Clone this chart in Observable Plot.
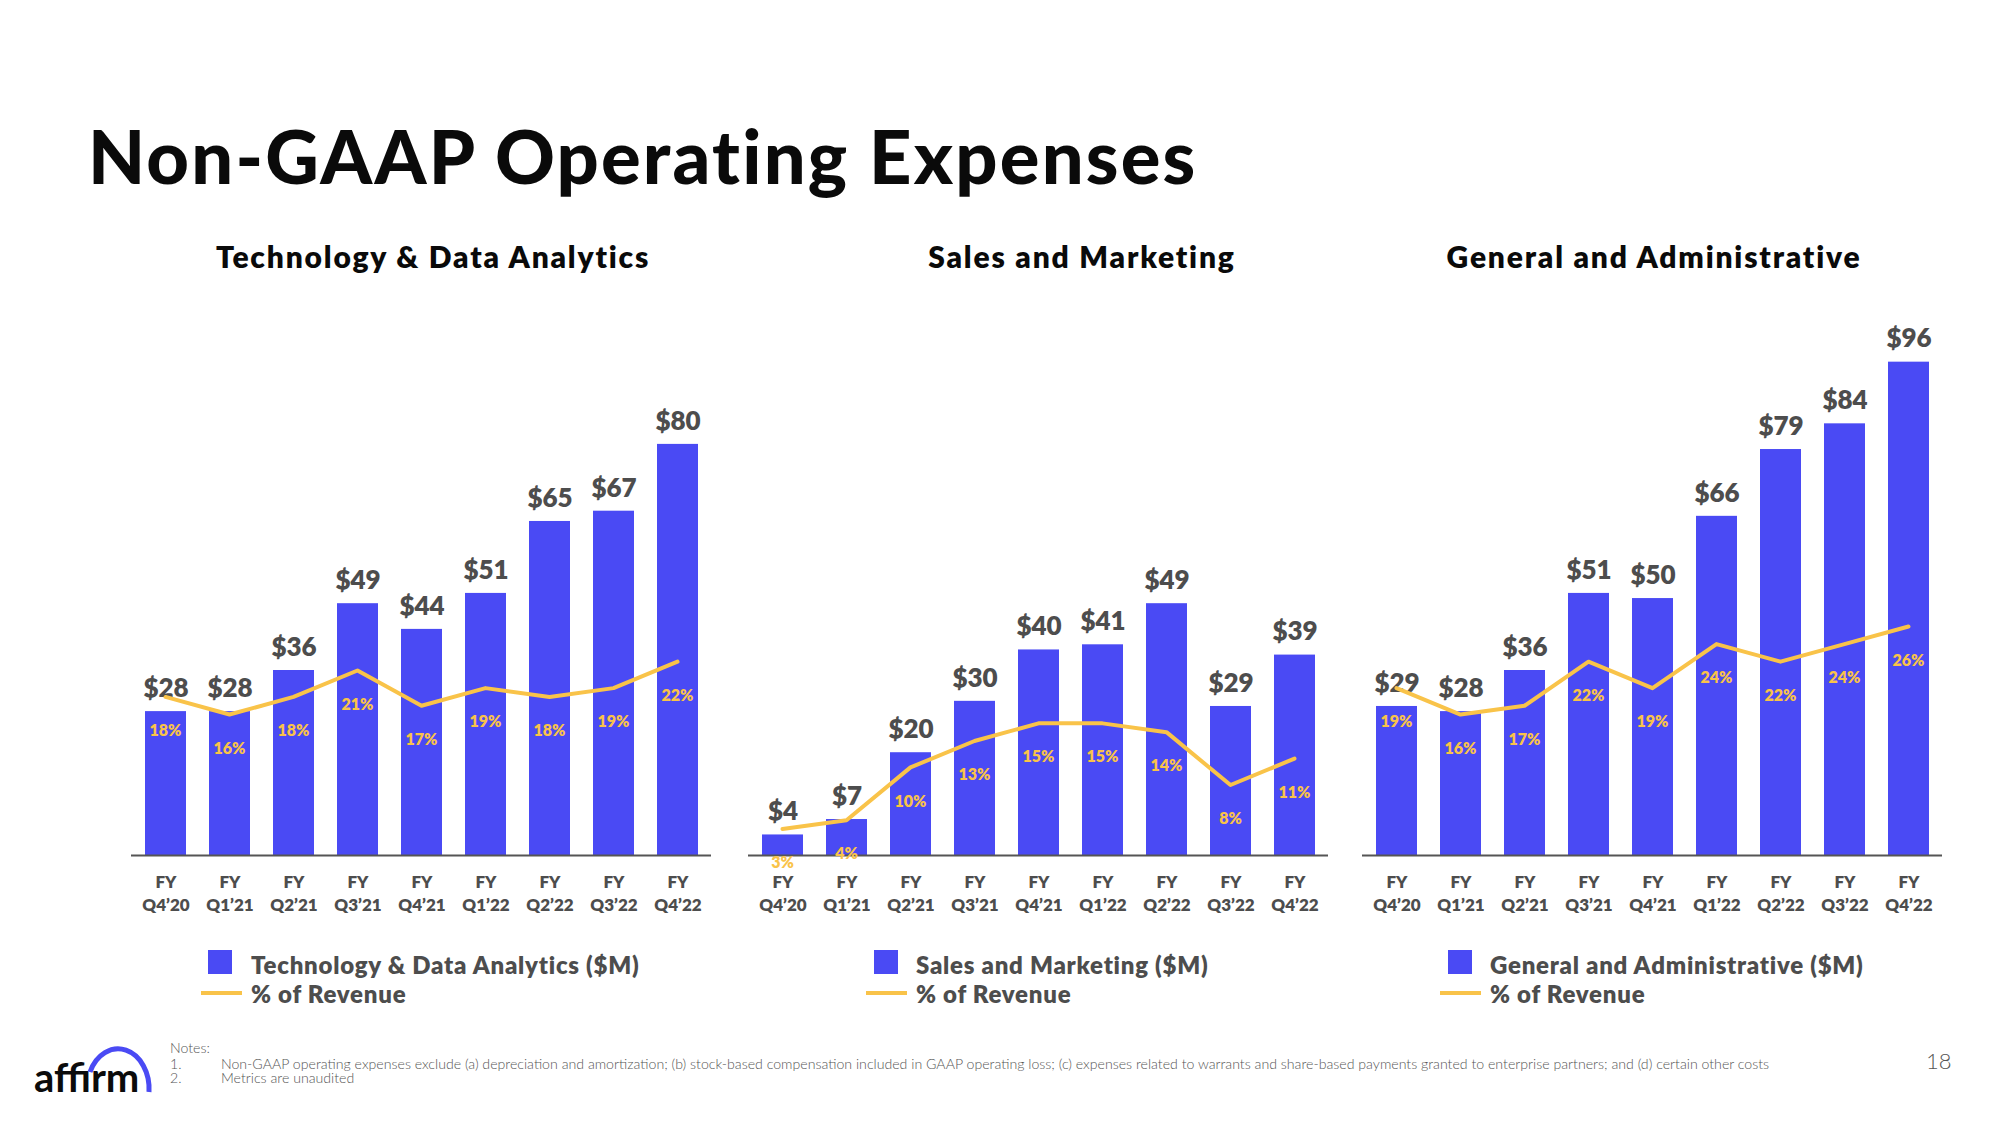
<!DOCTYPE html>
<html>
<head>
<meta charset="utf-8">
<script src="https://cdn.jsdelivr.net/npm/d3@7"></script>
<script src="https://cdn.jsdelivr.net/npm/@observablehq/plot@0.6"></script>
<style>
  html, body { margin: 0; padding: 0; background: #fff; }
  #page { position: relative; width: 2000px; height: 1125px; background: #fff; overflow: hidden; font-family: Lato, "Open Sans", sans-serif; }
  .abs { position: absolute; white-space: nowrap; line-height: 1; }
  .title { font-size: 74px; font-weight: 900; color: #0a0a0a; letter-spacing: 2.2px; }
  .subtitle { font-size: 30px; font-weight: 800; color: #0a0a0a; transform: translateX(-50%); letter-spacing: 1.8px; }
  .legtext { font-size: 24px; font-weight: 800; color: #4d4d4d; letter-spacing: 0.75px; }
  .note { font-size: 14.15px; font-weight: 300; color: #555; }
  .panel svg { overflow: visible; }
</style>
</head>
<body>
<div id="page"></div>
<script>
// ---------- data ----------
const quarters = ["Q4’20", "Q1’21", "Q2’21", "Q3’21", "Q4’21", "Q1’22", "Q2’22", "Q3’22", "Q4’22"];

const techSpend = [28, 28, 36, 49, 44, 51, 65, 67, 80];
const techPct   = [18, 16, 18, 21, 17, 19, 18, 19, 22];

const smSpend = [4, 7, 20, 30, 40, 41, 49, 29, 39];
const smPct   = [3, 4, 10, 13, 15, 15, 14, 8, 11];

const gaSpend = [29, 28, 36, 51, 50, 66, 79, 84, 96];
const gaPct   = [19, 16, 17, 22, 19, 24, 22, 24, 26];

const panelTitles  = ["Technology & Data Analytics", "Sales and Marketing", "General and Administrative"];
const legendLabels = ["Technology & Data Analytics ($M)", "Sales and Marketing ($M)", "General and Administrative ($M)"];
const lineLabel = "% of Revenue";

// ---------- style ----------
const BLUE = "#4A4AF4";
const YELLOW = "#F9C349";
const GRAY = "#4d4d4d";
const USD_MAX = 108;   // top of $ scale
const PCT_MAX = 63;    // top of % scale

const page = document.getElementById("page");

function addDiv(cls, text, left, top, extra) {
  const d = document.createElement("div");
  d.className = "abs " + cls;
  d.textContent = text;
  d.style.left = left + "px";
  d.style.top = top + "px";
  if (extra) Object.assign(d.style, extra);
  page.appendChild(d);
  return d;
}

// title
addDiv("title", "Non-GAAP Operating Expenses", 88, 119);

const panels = [
  {spend: techSpend, pct: techPct, axisLeft: 131, subCenter: 433, legSquare: 208, legLine: 201, legText: 251},
  {spend: smSpend,   pct: smPct,   axisLeft: 748, subCenter: 1082, legSquare: 874, legLine: 866, legText: 916},
  {spend: gaSpend,   pct: gaPct,   axisLeft: 1362, subCenter: 1654, legSquare: 1448, legLine: 1440, legText: 1490}
];

const PW = 620, PH = 620, ML = 20, MR = 20, MB = 65, TOP = 300;
const xOpts = {domain: quarters, paddingInner: 0.364, paddingOuter: 0.178};
const svgStyle = "background:transparent;overflow:visible;max-width:none;font-family:Lato,'Open Sans',sans-serif;";

panels.forEach((p, i) => {
  const data = quarters.map((q, k) => ({q, v: p.spend[k], pct: p.pct[k]}));

  // subtitle
  addDiv("subtitle", panelTitles[i], p.subCenter, 268 - 0.887 * 30);

  const bars = Plot.plot({
    width: PW, height: PH,
    marginLeft: ML, marginRight: MR, marginTop: 0, marginBottom: MB,
    style: svgStyle,
    x: xOpts,
    y: {domain: [0, USD_MAX], axis: null},
    marks: [
      Plot.barY(data, {x: "q", y: "v", fill: BLUE}),
      Plot.ruleY([0], {stroke: "#555", strokeWidth: 2}),
      Plot.text(data, {x: "q", y: "v", text: d => "$" + d.v, dy: -23, fontSize: 26, fontWeight: 800, fill: GRAY, letterSpacing: 0.8}),
      Plot.axisX({tickSize: 0, tickPadding: 16.5, tickFormat: q => "FY\n" + q,
                  fontSize: 17, fontWeight: 800, fill: GRAY, lineHeight: 1.35, label: null})
    ]
  });

  const line = Plot.plot({
    width: PW, height: PH,
    marginLeft: ML, marginRight: MR, marginTop: 0, marginBottom: MB,
    style: svgStyle,
    x: {...xOpts, axis: null},
    y: {domain: [0, PCT_MAX], axis: null},
    marks: [
      Plot.line(data, {x: "q", y: "pct", stroke: YELLOW, strokeWidth: 4}),
      Plot.text(data, {x: "q", y: "pct", text: d => d.pct + "%", dy: 34, fontSize: 16, fontWeight: 800, fill: YELLOW})
    ]
  });

  for (const svg of [bars, line]) {
    const wrap = document.createElement("div");
    wrap.className = "panel";
    Object.assign(wrap.style, {position: "absolute", left: (p.axisLeft - ML) + "px", top: TOP + "px", width: PW + "px", height: PH + "px", pointerEvents: "none"});
    wrap.appendChild(svg);
    page.appendChild(wrap);
  }

  // legend
  const sq = document.createElement("div");
  Object.assign(sq.style, {position: "absolute", left: p.legSquare + "px", top: "950px", width: "24px", height: "24px", background: BLUE});
  page.appendChild(sq);
  addDiv("legtext", legendLabels[i], p.legText, 966 - 0.53 * 24);
  const ln = document.createElement("div");
  Object.assign(ln.style, {position: "absolute", left: p.legLine + "px", top: "991px", width: "41px", height: "4px", background: YELLOW});
  page.appendChild(ln);
  addDiv("legtext", lineLabel, p.legText, 995 - 0.53 * 24);
});

// footer notes
addDiv("note", "Notes:", 170, 1048 - 0.53 * 13);
addDiv("note", "1.", 170, 1064 - 0.53 * 13);
addDiv("note", "Non-GAAP operating expenses exclude (a) depreciation and amortization; (b) stock-based compensation included in GAAP operating loss; (c) expenses related to warrants and share-based payments granted to enterprise partners; and (d) certain other costs", 221, 1064 - 0.53 * 13);
addDiv("note", "2.", 170, 1078 - 0.53 * 13);
addDiv("note", "Metrics are unaudited", 221, 1078 - 0.53 * 13);

// page number
addDiv("note", "18", 1926, 1062 - 0.53 * 22, {fontSize: "22px", color: "#555"});

// logo
const ns = "http://www.w3.org/2000/svg";
const logo = document.createElementNS(ns, "svg");
logo.setAttribute("width", "200"); logo.setAttribute("height", "80");
Object.assign(logo.style, {position: "absolute", left: "0px", top: "1030px"});
const lt = document.createElementNS(ns, "text");
lt.setAttribute("x", "34"); lt.setAttribute("y", "62");
lt.setAttribute("font-family", "Lato, sans-serif"); lt.setAttribute("font-size", "40"); lt.setAttribute("font-weight", "700");
lt.setAttribute("fill", "#0b0b0b");
lt.textContent = "affirm";
logo.appendChild(lt);
const arc = document.createElementNS(ns, "path");
arc.setAttribute("d", "M 90 42 A 31 40 0 0 1 149 62");
arc.setAttribute("fill", "none"); arc.setAttribute("stroke", BLUE); arc.setAttribute("stroke-width", "5");
logo.appendChild(arc);
page.appendChild(logo);
</script>
</body>
</html>
